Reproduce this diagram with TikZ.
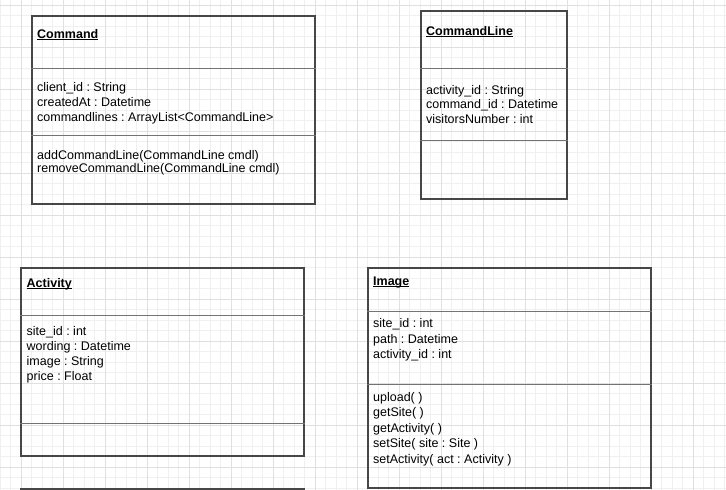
\documentclass[tikz,border=0pt]{standalone}
\usepackage{fontspec}
\setmainfont{Liberation Sans}
\usepackage{xcolor}
\usepackage{tikz}

\newcommand{\classname}[1]{\setbox0\hbox{\textbf{#1}}\rlap{\rule[-1.4pt]{\wd0}{0.8pt}}\box0}
\frenchspacing

\begin{document}
\begin{tikzpicture}[x=1pt, y=-1pt,
    every node/.style={inner sep=0pt, font=\fontsize{12.5}{15}\selectfont},
    classbox/.style={draw=black!72, line width=1.1pt, minimum width=283pt, minimum height=188pt},
    sep/.style={draw=black!55, line width=0.9pt},
    members/.style={anchor=base west, align=left},
    gridminor/.style={draw=black!6, line width=0.6pt},
    gridmajor/.style={draw=black!12, line width=0.6pt}]
    \useasboundingbox (0,0) rectangle (726,490);
    \clip (0,0) rectangle (726,490);

    % grid
    \foreach \i in {0,...,69} \draw[gridminor] (\i*10.5,0) -- (\i*10.5,490);
    \foreach \j in {0,...,46} \draw[gridminor] (0,5+\j*10.5) -- (726,5+\j*10.5);
    \foreach \i in {0,...,16} \draw[gridmajor] (21+\i*42,0) -- (21+\i*42,490);
    \foreach \j in {0,...,11} \draw[gridmajor] (0,5+\j*42) -- (726,5+\j*42);

    % classes
    \node[classbox] (command) at (173.5,110) {};
    \node[classbox, minimum width=146pt] (cmdline) at (494,105) {};
    \node[classbox] (activity) at (162.5,362) {};
    \node[classbox, minimum height=220pt] (image) at (509.5,378) {};
    \node[classbox] (next) at (162.5,583) {};

    \draw[sep] ([yshift=-53pt]command.north west) -- ([yshift=-53pt]command.north east);
    \draw[sep] ([yshift=-120pt]command.north west) -- ([yshift=-120pt]command.north east);
    \draw[sep] ([yshift=-58pt]cmdline.north west) -- ([yshift=-58pt]cmdline.north east);
    \draw[sep] ([yshift=-130pt]cmdline.north west) -- ([yshift=-130pt]cmdline.north east);
    \draw[sep] ([yshift=-48pt]activity.north west) -- ([yshift=-48pt]activity.north east);
    \draw[sep] ([yshift=-156pt]activity.north west) -- ([yshift=-156pt]activity.north east);
    \draw[sep] ([yshift=-44pt]image.north west) -- ([yshift=-44pt]image.north east);
    \draw[sep] ([yshift=-117pt]image.north west) -- ([yshift=-117pt]image.north east);

    % texts (multi-line nodes sit on the baseline of their last line)
    \node[members] (commandTitle) at (37,38.5) {\classname{Command}};
    \node[members] (commandAttr) at (37,121) {client\_id : String\\createdAt : Datetime\\commandlines : ArrayList<CommandLine>};
    \node[members, font=\fontsize{12.5}{13.5}\selectfont] (commandOps) at (37,172.5) {addCommandLine(CommandLine cmdl)\\removeCommandLine(CommandLine cmdl)};

    \node[members] (cmdlineTitle) at (426,35.5) {\classname{CommandLine}};
    \node[members, font=\fontsize{12.5}{14.5}\selectfont] (cmdlineAttr) at (426,123) {activity\_id : String\\command\_id : Datetime\\visitorsNumber : int};

    \node[members] (activityTitle) at (26.5,287) {\classname{Activity}};
    \node[members, font=\fontsize{12.5}{15.2}\selectfont] (activityAttr) at (26.5,380.7) {site\_id : int\\wording : Datetime\\image : String\\price : Float};

    \node[members] (imageTitle) at (373,285.5) {\classname{Image}};
    \node[members, font=\fontsize{12.5}{15.2}\selectfont] (imageAttr) at (373,358.3) {site\_id : int\\path : Datetime\\activity\_id : int};
    \node[members, font=\fontsize{12.5}{15.4}\selectfont] (imageOps) at (373,463) {upload( )\\getSite( )\\getActivity( )\\setSite( site : Site )\\setActivity( act : Activity )};
\end{tikzpicture}
\end{document}
